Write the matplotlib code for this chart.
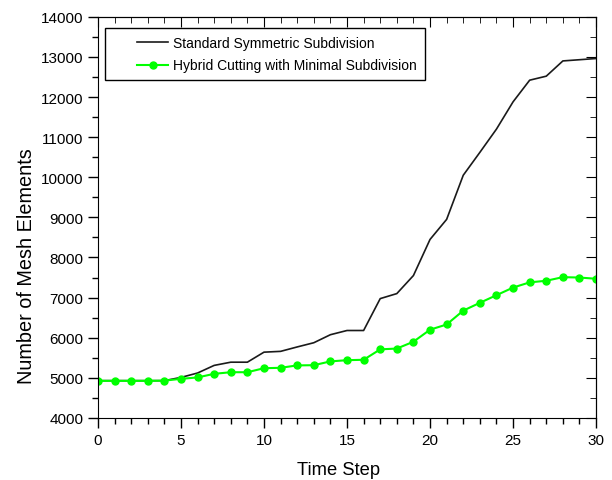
import numpy as np
import matplotlib.pyplot as plt
from matplotlib.ticker import MultipleLocator
from matplotlib.legend_handler import HandlerLine2D

plt.rcParams['font.family'] = ['Liberation Sans', 'DejaVu Sans']

# data
steps = np.arange(0, 31)
standard = [4930, 4930, 4930, 4930, 4930, 5010, 5120, 5310, 5390, 5390,
            5640, 5660, 5770, 5875, 6075, 6180, 6180, 6975, 7100, 7550,
            8450, 8950, 10050, 10620, 11200, 11880, 12420, 12520, 12900, 12930,
            12960]
hybrid = [4925, 4925, 4925, 4925, 4930, 4975, 5010, 5100, 5140, 5140,
          5240, 5250, 5310, 5315, 5410, 5440, 5450, 5710, 5730, 5900,
          6200, 6330, 6675, 6870, 7060, 7250, 7380, 7420, 7510, 7500,
          7470]

fig = plt.figure(figsize=(6.12, 4.81), dpi=100)
ax = fig.add_axes([0.160, 0.129, 0.814, 0.834])

l1, = ax.plot(steps, standard, color='#1a1a1a', lw=1.2,
              label='Standard Symmetric Subdivision')
l2, = ax.plot(steps, hybrid, color='#00ff00', lw=1.5, marker='o', markersize=5,
              label='Hybrid Cutting with Minimal Subdivision')

ax.set_xlim(0, 30)
ax.set_ylim(4000, 14000)
ax.xaxis.set_major_locator(MultipleLocator(5))
ax.xaxis.set_minor_locator(MultipleLocator(1))
ax.yaxis.set_major_locator(MultipleLocator(1000))
ax.yaxis.set_minor_locator(MultipleLocator(500))

# origin style: ticks out on left/bottom, in on top/right
ax.tick_params(which='both', direction='out', top=False, right=False,
               labelsize=11, width=1)
ax.tick_params(which='major', length=7)
ax.tick_params(which='minor', length=4)

sec_x = ax.secondary_xaxis('top')
sec_x.xaxis.set_major_locator(MultipleLocator(5))
sec_x.xaxis.set_minor_locator(MultipleLocator(1))
sec_x.tick_params(which='both', direction='in', labeltop=False)
sec_x.tick_params(which='major', length=7)
sec_x.tick_params(which='minor', length=4)
sec_y = ax.secondary_yaxis('right')
sec_y.yaxis.set_major_locator(MultipleLocator(1000))
sec_y.yaxis.set_minor_locator(MultipleLocator(500))
sec_y.tick_params(which='both', direction='in', labelright=False)
sec_y.tick_params(which='major', length=7)
sec_y.tick_params(which='minor', length=4)

ax.set_xlabel('Time Step', fontsize=13.2)
ax.set_ylabel('Number of Mesh Elements', fontsize=14.3)
ax.xaxis.set_label_coords(0.484, -0.108)
ax.yaxis.set_label_coords(-0.124, 0.38)

# handle pushed right with xpad, like the origin legend
hmap = {l1: HandlerLine2D(xpad=1.75), l2: HandlerLine2D(xpad=1.75)}
leg = ax.legend(loc='upper left', bbox_to_anchor=(0.014, 0.973),
                borderaxespad=0, fontsize=10, fancybox=False,
                edgecolor='black', framealpha=1, borderpad=0.58,
                handlelength=3.95, handletextpad=0.36, labelspacing=0.63,
                handler_map=hmap)
leg.get_frame().set_linewidth(1.0)

fig.savefig('out.png', dpi=100)
